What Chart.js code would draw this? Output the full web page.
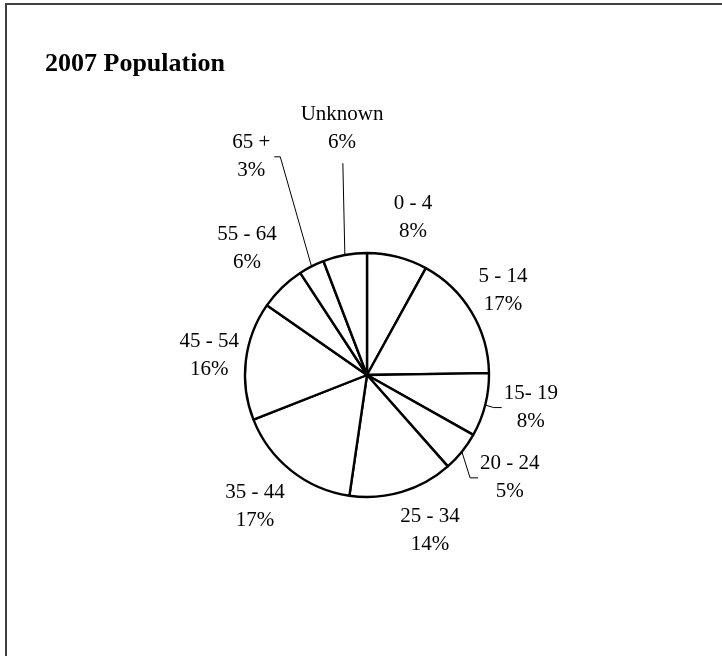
<!DOCTYPE html>
<html>
<head>
<meta charset="utf-8">
<script src="https://cdn.jsdelivr.net/npm/chart.js@4/dist/chart.umd.min.js"></script>
<style>
  html, body { margin: 0; padding: 0; background: #ffffff; }
  #wrap { width: 722px; height: 656px; position: relative; }
</style>
</head>
<body>
<div id="wrap"><canvas id="c" width="722" height="656"></canvas></div>
<script>
// ---- data ----
const chartTitle = "2007 Population";
const categories = ["0 - 4", "5 - 14", "15- 19", "20 - 24", "25 - 34", "35 - 44", "45 - 54", "55 - 64", "65 +", "Unknown"];
const shares = [8.0, 16.7, 8.4, 5.3, 13.8, 16.7, 15.6, 6.1, 3.4, 5.8];

// ---- layout (label placement relative to each slice, leader lines) ----
const labelDist  = [164, 160, 167, 176, 168, 173, 159, 174, 247, 248];   // px from pie centre
const labelShift = [1.9, -0.7, -3.0, -3.2, -5.4, 1.9, 0.5, 0.6, -0.9, 4.7]; // degrees from slice mid-angle
const hasLeader  = [false, false, true, true, false, false, false, false, true, true];

const FONT = "'Liberation Serif', 'DejaVu Serif', serif";
const LABEL_SIZE = 21;
const LINE_H = 28;

const framePlugin = {
  id: 'frame',
  beforeDraw(chart) {
    const ctx = chart.ctx;
    ctx.save();
    ctx.fillStyle = '#ffffff';
    ctx.fillRect(0, 0, chart.width, chart.height);
    ctx.strokeStyle = '#404040';
    ctx.lineWidth = 2;
    ctx.strokeRect(6, 4, chart.width + 50, chart.height + 50);
    ctx.fillStyle = '#000000';
    ctx.font = "bold 26px " + FONT;
    ctx.textAlign = 'left';
    ctx.textBaseline = 'alphabetic';
    ctx.fillText(chartTitle, 45, 71);
    ctx.restore();
  }
};

const labelPlugin = {
  id: 'sliceLabels',
  afterDatasetsDraw(chart) {
    const ctx = chart.ctx;
    const meta = chart.getDatasetMeta(0);
    const data = chart.data.datasets[0].data;
    const total = data.reduce((a, b) => a + b, 0);
    ctx.save();
    ctx.font = LABEL_SIZE + "px " + FONT;
    ctx.fillStyle = '#000000';
    ctx.strokeStyle = '#000000';
    ctx.textAlign = 'center';
    ctx.textBaseline = 'middle';
    meta.data.forEach((arc, i) => {
      const p = arc.getProps(['x', 'y', 'startAngle', 'endAngle', 'outerRadius'], true);
      const mid = (p.startAngle + p.endAngle) / 2;
      const a = mid + labelShift[i] * Math.PI / 180;
      const cx = p.x + labelDist[i] * Math.cos(a);
      const cy = p.y + labelDist[i] * Math.sin(a);
      const lines = [chart.data.labels[i], Math.round(data[i] / total * 100) + "%"];
      const w = Math.max(...lines.map(t => ctx.measureText(t).width));
      const h = LINE_H * lines.length;
      lines.forEach((t, k) => {
        ctx.fillText(t, cx, cy - h / 2 + LINE_H * (k + 0.5));
      });
      if (hasLeader[i]) {
        const ex = p.x + p.outerRadius * Math.cos(mid);
        const ey = p.y + p.outerRadius * Math.sin(mid);
        const left = cx - w / 2, right = cx + w / 2, bottom = cy + h / 2;
        ctx.lineWidth = 1;
        ctx.beginPath();
        ctx.moveTo(ex, ey);
        if (ex > left && ex < right) {
          ctx.lineTo(ex - 2, bottom + 7);
        } else if (ex >= right) {
          ctx.lineTo(right + 10, cy);
          ctx.lineTo(right + 4, cy);
        } else {
          ctx.lineTo(left - 10, cy);
          ctx.lineTo(left - 2, cy);
        }
        ctx.stroke();
      }
    });
    ctx.restore();
  }
};

new Chart(document.getElementById('c'), {
  type: 'pie',
  data: {
    labels: categories,
    datasets: [{
      data: shares,
      backgroundColor: '#ffffff',
      borderColor: '#000000',
      borderWidth: 2.4,
      radius: 122
    }]
  },
  options: {
    responsive: false,
    devicePixelRatio: 1,
    animation: false,
    layout: { padding: { left: 100, right: 88, top: 150, bottom: 56 } },
    plugins: {
      legend: { display: false },
      title: { display: false },
      tooltip: { enabled: false }
    }
  },
  plugins: [framePlugin, labelPlugin]
});
</script>
</body>
</html>
